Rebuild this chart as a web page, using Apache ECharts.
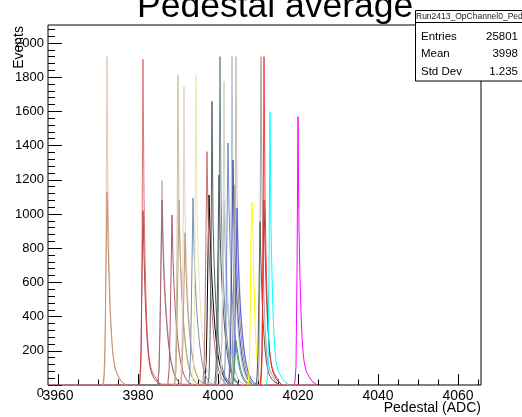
<!DOCTYPE html>
<html>
<head>
<meta charset="utf-8">
<script src="https://cdn.jsdelivr.net/npm/echarts@6/dist/echarts.min.js"></script>
<style>
html,body{margin:0;padding:0;background:#fff;}
#chart{width:522px;height:417px;}
</style>
</head>
<body>
<div id="chart"></div>
<script>
// ---- data ----
const binWidth = 0.25;
const xRange = [3957.5, 4065.75];
const yRange = [0, 2105];
const xTickLabels = [3960, 3980, 4000, 4020, 4040, 4060];
const yTickLabels = [0, 200, 400, 600, 800, 1000, 1200, 1400, 1600, 1800, 2000];

const statsName = "Run2413_OpChannel0_Pedestal";
const statsLabels = ["Entries", "Mean", "Std Dev"];
const statsValues = ["25801", "3998", "1.235"];

// left edge of first bin of each channel histogram
const channelStarts = [
  3996.75, 3971.25, 3971.25, 3980.25, 3980.25, 3985.0, 3985.0, 3987.5,
  3989.0, 3989.25, 3990.5, 3990.75, 3992.75, 3993.5, 3996.25, 3997.5,
  3999.5, 3999.25, 4000.5, 4000.5, 4001.5, 4002.5, 4002.75, 4003.25,
  4003.5, 4003.75, 4003.5, 4007.5, 4009.75, 4009.5, 4010.5, 4010.5,
  4012.0, 4019.0
];
const channelColors = [
  '#000000', '#e8c4b4', '#c89070', '#e0707a', '#c04050', '#c8a8b0', '#a06878', '#b05868',
  '#c8c29c', '#b8a484', '#e2d2ca', '#c09a78', '#7890b8', '#ebe6b0', '#c87070', '#586060',
  '#6f8794', '#4a5a64', '#b4b4b4', '#d8d2ca', '#6a8ad8', '#b4bfcc', '#4654a6', '#909090',
  '#c6bab0', '#5a5af0', '#40a040', '#ffff00', '#a4a4a4', '#5c5c5c', '#ff3a3a', '#d03030',
  '#00ffff', '#ff00ff'
];

const ch00 = [30, 110, 360, 760, 1111, 900, 740, 610, 500, 410, 335, 272, 220, 178, 143, 115, 92, 73, 58, 45, 34, 25, 17, 10];
const ch01 = [5, 20, 140, 800, 1920, 1120, 760, 520, 350, 240, 170, 130, 105, 85, 72, 60, 48, 38, 28, 18, 11, 5];
const ch02 = [10, 55, 230, 680, 1130, 850, 620, 450, 340, 250, 180, 135, 100, 80, 62, 50, 40, 30, 22, 16, 10, 5];
const ch03 = [4, 18, 130, 780, 1906, 1100, 740, 500, 330, 230, 165, 128, 100, 82, 70, 58, 47, 37, 27, 18, 10, 5];
const ch04 = [8, 45, 200, 600, 1020, 760, 540, 390, 280, 200, 145, 108, 82, 64, 50, 40, 31, 24, 18, 12, 8, 4];
const ch05 = [24, 96, 359, 777, 1195, 884, 693, 562, 454, 370, 299, 239, 191, 149, 120, 93, 72, 55, 42, 31, 23, 16, 10, 5];
const ch06 = [22, 86, 324, 702, 1080, 799, 626, 508, 410, 335, 270, 216, 173, 135, 108, 84, 65, 50, 38, 28, 21, 14, 9, 4];
const ch07 = [20, 80, 298, 646, 994, 736, 577, 467, 378, 308, 249, 199, 159, 124, 99, 78, 60, 46, 35, 26, 19, 13, 8, 4];
const ch08 = [15, 54, 272, 798, 1813, 1052, 798, 635, 508, 399, 317, 254, 199, 154, 120, 94, 73, 56, 44, 33, 24, 16, 11, 5];
const ch09 = [22, 86, 324, 702, 1080, 799, 626, 508, 410, 335, 270, 216, 173, 135, 108, 84, 65, 50, 38, 28, 21, 14, 9, 4];
const ch10 = [14, 52, 262, 768, 1745, 1012, 768, 611, 489, 384, 305, 244, 192, 148, 115, 91, 70, 54, 42, 31, 23, 16, 10, 5];
const ch11 = [18, 71, 267, 579, 890, 659, 516, 418, 338, 276, 223, 178, 142, 111, 89, 69, 53, 41, 31, 23, 17, 12, 7, 4];
const ch12 = [22, 87, 328, 710, 1093, 809, 634, 514, 415, 339, 273, 219, 175, 137, 109, 85, 66, 50, 38, 28, 21, 14, 9, 4];
const ch13 = [15, 54, 272, 798, 1813, 1052, 798, 635, 508, 399, 317, 254, 199, 154, 120, 94, 73, 56, 44, 33, 24, 16, 11, 5];
const ch14 = [27, 109, 409, 887, 1364, 1009, 791, 641, 518, 423, 341, 273, 218, 171, 136, 106, 82, 63, 48, 35, 26, 18, 11, 5];
const ch15 = [13, 50, 249, 729, 1657, 961, 729, 580, 464, 365, 290, 232, 182, 141, 109, 86, 66, 51, 40, 30, 22, 15, 10, 5];
const ch16 = [15, 58, 288, 845, 1920, 1114, 845, 672, 538, 422, 336, 269, 211, 163, 127, 100, 77, 60, 46, 35, 25, 17, 12, 6];
const ch17 = [25, 98, 368, 798, 1228, 909, 712, 577, 467, 381, 307, 246, 196, 154, 123, 96, 74, 56, 43, 32, 23, 16, 10, 5];
const ch18 = [22, 87, 325, 703, 1082, 801, 628, 509, 411, 335, 271, 216, 173, 135, 108, 84, 65, 50, 38, 28, 21, 14, 9, 4];
const ch19 = [14, 53, 266, 781, 1774, 1029, 781, 621, 497, 390, 310, 248, 195, 151, 117, 92, 71, 55, 43, 32, 23, 16, 11, 5];
const ch20 = [28, 113, 425, 920, 1415, 1047, 821, 665, 538, 439, 354, 283, 226, 177, 142, 110, 85, 65, 50, 37, 27, 18, 11, 6];
const ch21 = [16, 60, 285, 850, 1920, 1110, 840, 668, 540, 425, 332, 265, 208, 165, 125, 98, 78, 61, 45, 34, 24, 17, 11, 6];
const ch22 = [26, 105, 395, 855, 1316, 974, 763, 619, 500, 408, 329, 263, 211, 165, 132, 103, 79, 61, 46, 34, 25, 17, 11, 5];
const ch23 = [23, 94, 351, 761, 1170, 866, 679, 550, 445, 363, 293, 234, 187, 146, 117, 91, 70, 54, 41, 30, 22, 15, 9, 5];
const ch24 = [14, 56, 290, 840, 1920, 1118, 850, 675, 535, 420, 338, 270, 212, 160, 128, 101, 76, 59, 47, 35, 26, 18, 12, 6];
const ch25 = [21, 83, 311, 673, 1035, 766, 600, 486, 393, 321, 259, 207, 166, 129, 104, 81, 62, 48, 36, 27, 20, 13, 8, 4];
const ch26 = [5, 20, 70, 160, 260, 220, 180, 140, 110, 85, 65, 50, 38, 28, 20, 14, 9, 5];
const ch27 = [11, 64, 321, 856, 1070, 910, 590, 375, 235, 150, 96, 64, 43, 27, 16, 9];
const ch28 = [5, 20, 140, 800, 1920, 1120, 760, 520, 350, 240, 170, 130, 105, 85, 72, 60, 48, 38, 28, 18, 11, 5];
const ch29 = [10, 48, 190, 570, 955, 716, 525, 382, 287, 210, 153, 115, 86, 67, 53, 43, 34, 26, 20, 14, 10, 6];
const ch30 = [5, 21, 136, 803, 1920, 1116, 766, 519, 347, 241, 172, 133, 105, 86, 72, 60, 49, 38, 28, 19, 11, 5];
const ch31 = [11, 54, 216, 650, 1082, 810, 595, 433, 325, 238, 173, 130, 97, 76, 60, 49, 38, 29, 22, 15, 10, 5];
const ch32 = [5, 19, 112, 671, 1598, 927, 639, 431, 288, 200, 144, 112, 88, 72, 61, 51, 42, 32, 24, 16, 10, 5];
const ch33 = [5, 19, 110, 659, 1569, 910, 628, 424, 282, 196, 141, 110, 86, 71, 60, 50, 41, 31, 24, 16, 9, 5];

const channelCounts = [ch00, ch01, ch02, ch03, ch04, ch05, ch06, ch07, ch08, ch09, ch10, ch11,
  ch12, ch13, ch14, ch15, ch16, ch17, ch18, ch19, ch20, ch21, ch22, ch23, ch24, ch25, ch26,
  ch27, ch28, ch29, ch30, ch31, ch32, ch33];

// ---- build ----
function histPoints(start, counts, full) {
  const pts = [];
  if (full) pts.push([xRange[0], 0]);
  pts.push([start, 0]);
  counts.forEach((c, i) => pts.push([start + i * binWidth, c]));
  pts.push([start + counts.length * binWidth, 0]);
  if (full) pts.push([4025, 0]);
  return pts;
}

const xMinor = [];
for (let v = 3960; v <= xRange[1]; v += 5) if (v % 20 !== 0) xMinor.push(v);
const yMinor = [];
for (let v = 0; v <= yRange[1]; v += 40) if (v % 200 !== 0) yMinor.push(v);

const FONT = 'Liberation Sans';
const series = channelCounts.map((counts, i) => ({
  type: 'line',
  step: 'end',
  xAxisIndex: 0,
  yAxisIndex: 0,
  symbol: 'none',
  silent: true,
  animation: false,
  clip: true,
  lineStyle: { width: 1, color: channelColors[i] },
  itemStyle: { color: channelColors[i] },
  data: histPoints(channelStarts[i], counts, i === 3)
}));

const chart = echarts.init(document.getElementById('chart'), null, { renderer: 'canvas' });
const tickStyle = { color: '#000', width: 1 };
const plain = v => String(v);
chart.setOption({
  animation: false,
  backgroundColor: '#fff',
  textStyle: { fontFamily: FONT },
  grid: { left: 48, right: 41, top: 25, bottom: 32, show: true, borderColor: '#000', borderWidth: 1, backgroundColor: 'transparent', containLabel: false },
  xAxis: [
    {
      type: 'value', min: xRange[0], max: xRange[1], position: 'bottom',
      axisLine: { show: false },
      splitLine: { show: false },
      axisTick: { inside: true, length: 11, customValues: xTickLabels, lineStyle: tickStyle },
      axisLabel: { customValues: xTickLabels, formatter: plain, fontSize: 14, color: '#000', margin: 4, fontFamily: FONT }
    },
    {
      type: 'value', min: xRange[0], max: xRange[1], position: 'bottom',
      axisLine: { show: false },
      splitLine: { show: false },
      axisTick: { inside: true, length: 5.5, customValues: xMinor, lineStyle: tickStyle },
      axisLabel: { show: false }
    }
  ],
  yAxis: [
    {
      type: 'value', min: yRange[0], max: yRange[1], position: 'left',
      axisLine: { show: false },
      splitLine: { show: false },
      axisTick: { inside: true, length: 14, customValues: yTickLabels, lineStyle: tickStyle },
      axisLabel: { customValues: yTickLabels.filter(v => v !== 0), formatter: plain, fontSize: 13, color: '#000', margin: 4, fontFamily: FONT }
    },
    {
      type: 'value', min: yRange[0], max: yRange[1], position: 'left',
      axisLine: { show: false },
      splitLine: { show: false },
      axisTick: { inside: true, length: 7, customValues: yMinor, lineStyle: tickStyle },
      axisLabel: { show: false }
    }
  ],
  series: series,
  graphic: [
    { type: 'text', z: 10, x: 44, y: 393, style: { text: '0', fontSize: 13, fontFamily: FONT, fill: '#000', align: 'right', verticalAlign: 'middle' } },
    { type: 'text', z: 10, x: 19, y: 26, rotation: Math.PI / 2, style: { text: 'Events', fontSize: 14, fontFamily: FONT, fill: '#000', align: 'right', verticalAlign: 'middle' } },
    { type: 'text', z: 10, x: 481, y: 408, style: { text: 'Pedestal (ADC)', fontSize: 14, fontFamily: FONT, fill: '#000', align: 'right', verticalAlign: 'middle' } },
    { type: 'rect', z: 20, shape: { x: 415.5, y: 10.5, width: 120, height: 70.5 }, style: { fill: '#fff', stroke: '#000', lineWidth: 1 } },
    { type: 'line', z: 21, shape: { x1: 415.5, y1: 22.5, x2: 522, y2: 22.5 }, style: { stroke: '#000', lineWidth: 1 } },
    { type: 'text', z: 21, x: 416, y: 16.5, style: { text: statsName, fontSize: 8.5, fontFamily: FONT, fill: '#222', align: 'left', verticalAlign: 'middle' } },
    { type: 'text', z: 21, x: 421, y: 37, style: { text: statsLabels[0], fontSize: 11.5, fontFamily: FONT, fill: '#000', align: 'left', verticalAlign: 'middle' } },
    { type: 'text', z: 21, x: 421, y: 54, style: { text: statsLabels[1], fontSize: 11.5, fontFamily: FONT, fill: '#000', align: 'left', verticalAlign: 'middle' } },
    { type: 'text', z: 21, x: 421, y: 71.5, style: { text: statsLabels[2], fontSize: 11.5, fontFamily: FONT, fill: '#000', align: 'left', verticalAlign: 'middle' } },
    { type: 'text', z: 21, x: 518, y: 37, style: { text: statsValues[0], fontSize: 11.5, fontFamily: FONT, fill: '#000', align: 'right', verticalAlign: 'middle' } },
    { type: 'text', z: 21, x: 518, y: 54, style: { text: statsValues[1], fontSize: 11.5, fontFamily: FONT, fill: '#000', align: 'right', verticalAlign: 'middle' } },
    { type: 'text', z: 21, x: 518, y: 71.5, style: { text: statsValues[2], fontSize: 11.5, fontFamily: FONT, fill: '#000', align: 'right', verticalAlign: 'middle' } },
    { type: 'text', z: 30, x: 137, y: 7, style: { text: 'Pedestal average', fontSize: 35.5, fontFamily: FONT, fill: '#000', align: 'left', verticalAlign: 'middle' } }
  ]
});
</script>
</body>
</html>
